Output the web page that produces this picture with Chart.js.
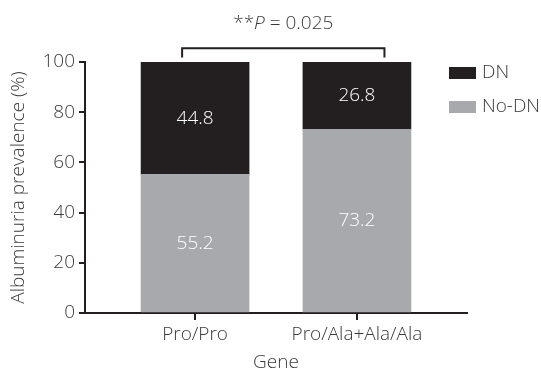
<!DOCTYPE html>
<html>
<head>
<meta charset="UTF-8">
<title>Albuminuria prevalence by gene</title>
<style type="text/css">
html, body {
	margin: 0;
	padding: 0;
	background: #fff;
}
#wrap {
	width: 541px;
	height: 370px;
}
</style>
<script src="https://cdn.jsdelivr.net/npm/chart.js@4.4.1/dist/chart.umd.min.js"></script>
</head>
<body>
<div id="wrap"><canvas id="chart" width="541" height="370"></canvas></div>
<script type="text/javascript">
	// datos
	var categories = ['Pro/Pro', 'Pro/Ala+Ala/Ala'];
	var xPos = [0, 1];
	var noDN = [55.2, 73.2];
	var dn = [44.8, 26.8];
	var yTicks = [0, 20, 40, 60, 80, 100];
	var pText = ['**', 'P', ' = 0.025'];

	var ink = '#231f20';
	var txt = '#3a3a3a';
	var fam = "'Open Sans', 'Noto Sans', sans-serif";
	var fw = '300';
	var fs = 19;

	function toPoints(vals) {
		return vals.map(function (v, i) { return { x: xPos[i], y: v }; });
	}

	// numeros blancos dentro de cada segmento
	var segLabels = {
		id: 'segLabels',
		afterDatasetsDraw: function (chart) {
			var ctx = chart.ctx;
			ctx.save();
			ctx.fillStyle = '#ffffff';
			ctx.font = fw + ' ' + fs + 'px ' + fam;
			ctx.textAlign = 'center';
			ctx.textBaseline = 'middle';
			chart.data.datasets.forEach(function (ds, d) {
				chart.getDatasetMeta(d).data.forEach(function (bar, i) {
					var p = bar.getProps(['x', 'y', 'base'], true);
					ctx.fillText(ds.data[i].y.toFixed(1), p.x, (p.y + p.base) / 2);
				});
			});
			ctx.restore();
		}
	};

	// corchete y valor de P arriba
	var pBracket = {
		id: 'pBracket',
		afterDraw: function (chart) {
			var ctx = chart.ctx;
			var xs = chart.scales.x, ys = chart.scales.y;
			var x1 = xs.getPixelForValue(-0.08), x2 = xs.getPixelForValue(1.17);
			var yTop = ys.getPixelForValue(105.5), yEnd = ys.getPixelForValue(101.8);
			ctx.save();
			ctx.strokeStyle = ink;
			ctx.lineWidth = 2;
			ctx.beginPath();
			ctx.moveTo(x1, yEnd);
			ctx.lineTo(x1, yTop);
			ctx.lineTo(x2, yTop);
			ctx.lineTo(x2, yEnd);
			ctx.stroke();

			ctx.fillStyle = txt;
			ctx.textBaseline = 'middle';
			var fonts = [fw + ' ' + fs + 'px ' + fam, 'italic ' + fw + ' ' + fs + 'px ' + fam, fw + ' ' + fs + 'px ' + fam];
			var w = 0;
			pText.forEach(function (s, i) { ctx.font = fonts[i]; w += ctx.measureText(s).width; });
			var x = (x1 + x2) / 2 - w / 2;
			pText.forEach(function (s, i) {
				ctx.font = fonts[i];
				ctx.fillText(s, x, 24);
				x += ctx.measureText(s).width;
			});
			ctx.restore();
		}
	};

	// leyenda a la derecha
	var sideLegend = {
		id: 'sideLegend',
		afterDraw: function (chart) {
			var ctx = chart.ctx;
			var items = chart.data.datasets.slice().reverse();
			ctx.save();
			ctx.font = fw + ' ' + fs + 'px ' + fam;
			ctx.textBaseline = 'middle';
			items.forEach(function (ds, i) {
				var y = 67 + i * 34;
				ctx.fillStyle = ds.backgroundColor;
				ctx.fillRect(449, y, 27, 12);
				ctx.fillStyle = txt;
				ctx.fillText(ds.label, 482, y + 6);
			});
			ctx.restore();
		}
	};

	var config = {
		type: 'bar',
		data: {
			datasets: [
				{ label: 'No-DN', data: toPoints(noDN), backgroundColor: '#a7a9ac', barThickness: 108 },
				{ label: 'DN', data: toPoints(dn), backgroundColor: ink, barThickness: 108 }
			]
		},
		options: {
			responsive: false,
			animation: false,
			layout: { padding: { top: 62, right: 74, left: 0, bottom: 0 } },
			plugins: {
				legend: { display: false },
				tooltip: { enabled: false }
			},
			scales: {
				x: {
					type: 'linear',
					stacked: true,
					offset: false,
					min: -0.68,
					max: 1.68,
					afterBuildTicks: function (s) { s.ticks = xPos.map(function (v) { return { value: v }; }); },
					afterFit: function (s) { s.height = 57; },
					grid: { offset: false, drawOnChartArea: false, drawTicks: true, tickLength: 7, color: ink, lineWidth: 2 },
					border: { display: true, color: ink, width: 2 },
					ticks: {
						padding: 3,
						color: txt,
						font: { family: fam, size: fs, weight: fw, lineHeight: 1.2 },
						callback: function (v) { return categories[xPos.indexOf(v)]; }
					},
					title: {
						display: true,
						text: 'Gene',
						color: txt,
						padding: { top: 0, bottom: -2 },
						font: { family: fam, size: fs, weight: fw, lineHeight: 1.0 }
					}
				},
				y: {
					stacked: true,
					min: 0,
					max: 100,
					afterBuildTicks: function (s) { s.ticks = yTicks.map(function (v) { return { value: v }; }); },
					afterFit: function (s) { s.width = 85; },
					grid: { drawOnChartArea: false, drawTicks: true, tickLength: 6, color: ink, lineWidth: 2 },
					border: { display: true, color: ink, width: 2 },
					ticks: {
						padding: 4,
						color: txt,
						font: { family: fam, size: fs, weight: fw }
					},
					title: {
						display: true,
						text: 'Albuminuria prevalence (%)',
						color: txt,
						padding: { top: 9, bottom: 0 },
						font: { family: fam, size: fs, weight: fw, lineHeight: 1.0 }
					}
				}
			}
		},
		plugins: [segLabels, pBracket, sideLegend]
	};

	new Chart(document.getElementById('chart').getContext('2d'), config);
</script>
</body>
</html>
